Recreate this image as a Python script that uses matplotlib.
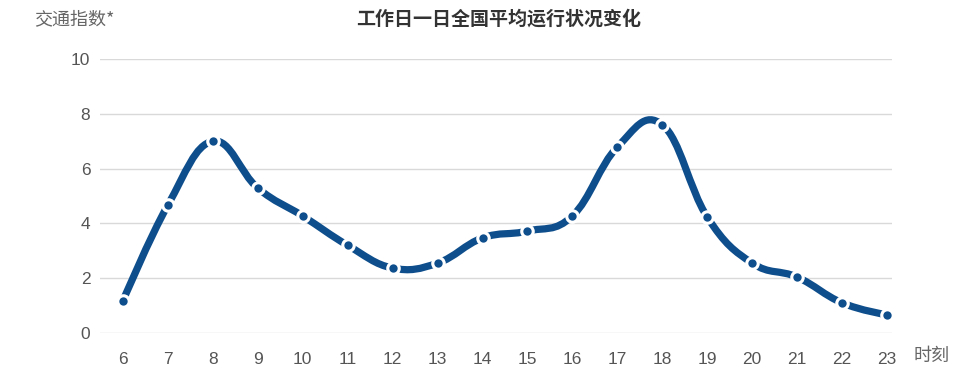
import matplotlib
matplotlib.use("Agg")
import matplotlib.pyplot as plt
from matplotlib.path import Path
from matplotlib.patches import PathPatch

hours = [6, 7, 8, 9, 10, 11, 12, 13, 14, 15, 16, 17, 18, 19, 20, 21, 22, 23]
index_values = [1.17, 4.67, 7.0, 5.29, 4.27, 3.2, 2.37, 2.55, 3.47, 3.72, 4.27, 6.79, 7.6, 4.23, 2.55, 2.04, 1.1, 0.66]
y_ticks = [0, 2, 4, 6, 8, 10]

title = "工作日一日全国平均运行状况变化"
y_title = "交通指数*"
x_title = "时刻"

line_color = "#0e4e8c"

fig = plt.figure(figsize=(9.68, 3.81), dpi=100)
ax = fig.add_axes([100/968, (381-333)/381, (892-100)/968, (333-59)/381])

xs = list(range(len(hours)))
ax.set_xlim(-0.51, len(hours) - 1 + 0.11)
ax.set_ylim(0, 10)

# spline through the points (cubic Bezier, smoothing 1.5)
xr = 792 / (ax.get_xlim()[1] - ax.get_xlim()[0])
yr = 274 / 10.0
px = [x * xr for x in xs]
py = [y * yr for y in index_values]

def controls(i):
    sm = 1.5
    d = sm + 1
    x, y = px[i], py[i]
    lx, ly = px[i-1], py[i-1]
    nx, ny = px[i+1], py[i+1]
    lcx = (sm * x + lx) / d
    lcy = (sm * y + ly) / d
    rcx = (sm * x + nx) / d
    rcy = (sm * y + ny) / d
    if rcx != lcx:
        corr = ((rcy - lcy) * (rcx - x)) / (rcx - lcx) + y - rcy
        lcy += corr
        rcy += corr
    return (lcx, lcy), (rcx, rcy)

n = len(px)
left = [None] * n
right = [None] * n
left[0] = right[0] = (px[0], py[0])
left[-1] = right[-1] = (px[-1], py[-1])
for i in range(1, n - 1):
    left[i], right[i] = controls(i)

verts = [(px[0], py[0])]
codes = [Path.MOVETO]
for i in range(1, n):
    verts += [right[i-1], left[i], (px[i], py[i])]
    codes += [Path.CURVE4] * 3
verts = [(vx / xr, vy / yr) for vx, vy in verts]
path = Path(verts, codes)
ax.add_patch(PathPatch(path, facecolor="none", edgecolor=line_color, lw=5.2,
                       capstyle="round", joinstyle="round", zorder=3))

ax.scatter(xs, index_values, s=10.5**2, color="white", zorder=4, linewidths=0)
ax.scatter(xs, index_values, s=6.0**2, color=line_color, zorder=5, linewidths=0)

for s in ax.spines.values():
    s.set_visible(False)
ax.set_yticks(y_ticks)
ax.yaxis.grid(True, color="#d9d9d9", lw=1)
ax.set_axisbelow(True)
ax.set_xticks(xs)
ax.set_xticklabels([str(h) for h in hours])
ax.tick_params(length=0, labelsize=12.5, labelcolor="#555555", pad=14)
ax.tick_params(axis="y", pad=7)
for lab in ax.get_xticklabels() + ax.get_yticklabels():
    lab.set_family(["Liberation Sans", "DejaVu Sans"])

fig.text(499/968, 1 - 19/381, title, ha="center", va="center", fontsize=13.7,
         fontweight="bold", color="#333333", family=["Noto Sans CJK SC", "DejaVu Sans"])
fig.text(34/968, 1 - 19/381, y_title, ha="left", va="center", fontsize=13,
         color="#666666", family=["Noto Sans CJK SC", "DejaVu Sans"])
fig.text(914/968, 1 - 356/381, x_title, ha="left", va="center", fontsize=13,
         color="#666666", family=["Noto Sans CJK SC", "DejaVu Sans"])

fig.savefig("out.png", dpi=100)
